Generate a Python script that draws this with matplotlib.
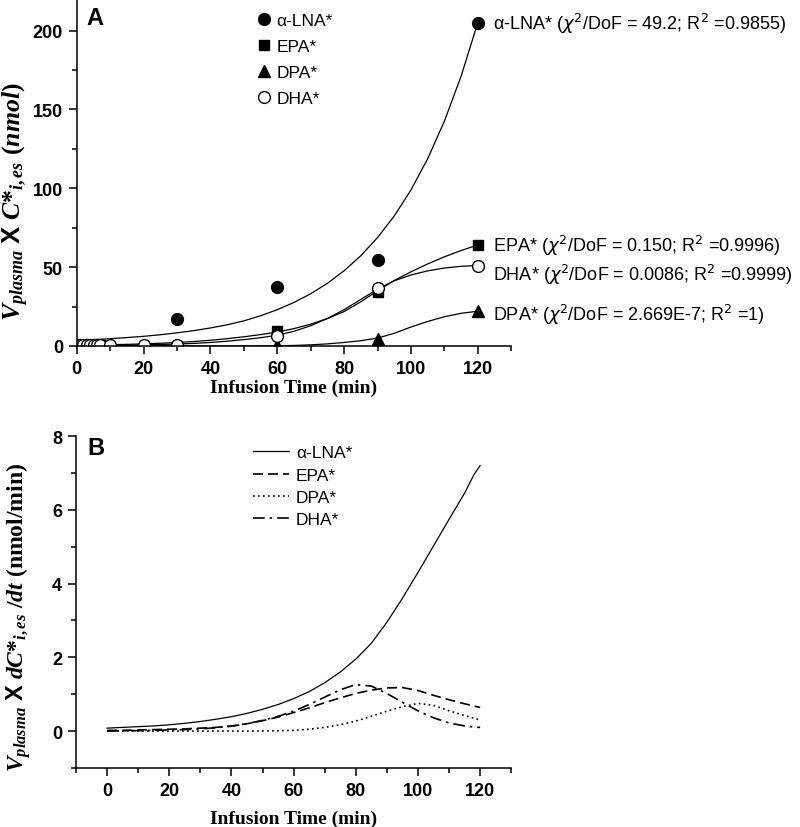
import matplotlib
matplotlib.use('Agg')
import matplotlib.pyplot as plt
from matplotlib.ticker import MultipleLocator
import numpy as np

plt.rcParams['font.family'] = ['Liberation Sans', 'DejaVu Sans']
plt.rcParams['mathtext.fontset'] = 'custom'
plt.rcParams['mathtext.it'] = 'Liberation Serif:italic:bold'
plt.rcParams['mathtext.rm'] = 'Liberation Serif:bold'
plt.rcParams['mathtext.bf'] = 'Liberation Serif:bold'
plt.rcParams['mathtext.sf'] = 'Liberation Sans:bold'

### measured points, panel A (nmol)
names = ['α-LNA*', 'EPA*', 'DPA*', 'DHA*']
t_early = [1, 2, 3, 4, 5, 6, 7]
t_lna = t_early + [30, 60, 90, 120]
v_lna = [0.6, 0.6, 0.6, 0.6, 0.6, 0.6, 0.6, 17, 37.5, 54.5, 205]
t_epa = t_early + [60, 90, 120]
v_epa = [0.5, 0.5, 0.5, 0.5, 0.5, 0.5, 0.5, 9.5, 34.5, 64]
t_dpa = t_early + [10, 60, 90, 120]
v_dpa = [0.8, 0.8, 0.8, 0.8, 0.8, 0.8, 0.8, 0.8, 0.5, 4.5, 22]
t_dha = t_early + [10, 20, 30, 60, 90, 120]
v_dha = [0.4, 0.4, 0.4, 0.4, 0.4, 0.4, 0.4, 0.5, 0.5, 0.5, 6.5, 37, 51]

### fitted curves, every 5 min
t_fit = list(range(0, 125, 5))
fit_lna = [3.5, 4.0, 4.6, 5.3, 6.1, 7.1, 8.3, 9.7, 11.4, 13.4, 15.9, 19.1, 23.0,
           27.6, 33.1, 39.7, 47.7, 57.2, 68.7, 82.4, 98.9, 118.7, 142.5, 171.0, 205.0]
fit_epa = [0.5, 0.6, 0.8, 1.0, 1.3, 1.7, 2.2, 2.8, 3.6, 4.6, 5.8, 7.2, 8.8,
           11.0, 13.8, 17.4, 21.8, 28.0, 35.0, 41.5, 47.0, 52.0, 56.5, 60.5, 64.0]
fit_dpa = [0, 0, 0, 0, 0, 0, 0, 0, 0, 0, 0, 0.05, 0.1,
           0.3, 0.7, 1.3, 2.2, 3.3, 5.0, 8.0, 12.0, 15.5, 18.5, 20.7, 22.0]
fit_dha = [0.3, 0.35, 0.4, 0.5, 0.7, 0.9, 1.2, 1.6, 2.2, 3.0, 4.0, 5.2, 6.8,
           9.3, 12.8, 17.4, 23.0, 29.5, 36.0, 41.3, 45.0, 47.6, 49.4, 50.5, 51.0]

### rates, panel B (nmol/min)
t_rate = list(range(0, 120, 5)) + [118, 120]
rate_lna = [0.08, 0.10, 0.12, 0.14, 0.17, 0.21, 0.26, 0.32, 0.39, 0.48, 0.59, 0.72, 0.88,
            1.07, 1.31, 1.60, 1.95, 2.38, 2.95, 3.60, 4.30, 5.02, 5.74, 6.45, 6.95, 7.2]
rate_epa = [0.02, 0.02, 0.03, 0.04, 0.05, 0.06, 0.08, 0.10, 0.14, 0.20, 0.28, 0.38, 0.50,
            0.63, 0.77, 0.90, 1.02, 1.11, 1.17, 1.18, 1.10, 0.97, 0.85, 0.74, 0.68, 0.64]
rate_dpa = [0, 0, 0, 0, 0, 0, 0, 0, 0, 0, 0, 0.01, 0.02,
            0.05, 0.10, 0.17, 0.27, 0.40, 0.54, 0.66, 0.75, 0.70, 0.55, 0.42, 0.35, 0.30]
rate_dha = [0.0, 0.01, 0.01, 0.02, 0.03, 0.04, 0.06, 0.09, 0.13, 0.20, 0.29, 0.40, 0.54,
            0.72, 0.92, 1.12, 1.26, 1.22, 1.02, 0.78, 0.55, 0.36, 0.22, 0.14, 0.11, 0.10]

stats = [r'($\chi^2$/DoF = 49.2; R$^2$ =0.9855)', r'($\chi^2$/DoF = 0.150; R$^2$ =0.9996)',
         r'($\chi^2$/DoF = 2.669E-7; R$^2$ =1)', r'($\chi^2$/DoF = 0.0086; R$^2$ =0.9999)']

fig = plt.figure(figsize=(8, 8.28), dpi=100)
axA = fig.add_axes([0.096, 0.581, 0.543, 0.419])
axB = fig.add_axes([0.095, 0.0713, 0.544, 0.4009])

lab_font = dict(fontsize=14, fontweight='bold', family='Liberation Serif')

def style_axis(ax):
	for s in ['top', 'right']:
		ax.spines[s].set_visible(False)
	for s in ['left', 'bottom']:
		ax.spines[s].set_linewidth(1.1)
	ax.tick_params(which='major', direction='out', length=6, width=1.1, pad=4)
	ax.tick_params(which='minor', direction='out', length=3.5, width=1.1)
	for lab in ax.get_xticklabels() + ax.get_yticklabels():
		lab.set_fontweight('bold')
		lab.set_fontsize(13)

### panel A
pts = [(t_lna, v_lna, 'o', 'k', 8.5), (t_epa, v_epa, 's', 'k', 7),
       (t_dpa, v_dpa, '^', 'k', 8.5), (t_dha, v_dha, 'o', 'w', 8.5)]
fits = [fit_lna, fit_epa, fit_dpa, fit_dha]
for (tt, vv, m, fc, ms), name, fit in zip(pts, names, fits):
	axA.plot(t_fit, fit, color='k', lw=0.9)
	axA.plot(tt, vv, m, mfc=fc, mec='k', ms=ms, mew=1, label=name)

offs = [(11, 0), (11, 0), (11, -2), (11, -6)]
for i in [0, 1, 3, 2]:
	tt, vv = pts[i][0], pts[i][1]
	axA.annotate(names[i] + ' ' + stats[i], xy=(tt[-1], vv[-1]), xytext=offs[i],
	             textcoords='offset points', va='center', ha='left', fontsize=13,
	             math_fontfamily='dejavusans', annotation_clip=False)

axA.set_xlim(0, 130)
axA.set_ylim(0, 220)
axA.xaxis.set_major_locator(MultipleLocator(20))
axA.xaxis.set_minor_locator(MultipleLocator(10))
axA.yaxis.set_major_locator(MultipleLocator(50))
axA.yaxis.set_minor_locator(MultipleLocator(25))
style_axis(axA)
axA.set_xlabel('Infusion Time (min)', labelpad=1, **lab_font)
axA.set_ylabel(r'$V_{plasma}\ \mathsf{X}\ C{*}_{i,es}\ (nmol)$', fontsize=18.5)
axA.yaxis.set_label_coords(-0.106, 0.42)
axA.text(0.023, 0.98, 'A', transform=axA.transAxes, ha='left', va='top',
         fontsize=17, fontweight='bold')
axA.legend(loc='upper left', bbox_to_anchor=(0.38, 1.005), frameon=False, fontsize=12.5,
           handlelength=0.8, handletextpad=0.3, labelspacing=0.62)

### panel B
styles = ['-', (0, (6, 3)), (0, (1, 2)), (0, (7, 3, 1.5, 3))]
rates = [rate_lna, rate_epa, rate_dpa, rate_dha]
for name, rr, ls in zip(names, rates, styles):
	axB.plot(t_rate, rr, color='k', lw=1.2 if ls != '-' else 0.9, linestyle=ls, label=name)

axB.set_xlim(-10, 130)
axB.set_ylim(-1, 8)
axB.xaxis.set_major_locator(MultipleLocator(20))
axB.xaxis.set_minor_locator(MultipleLocator(10))
axB.yaxis.set_major_locator(MultipleLocator(2))
axB.yaxis.set_minor_locator(MultipleLocator(1))
style_axis(axB)
axB.set_xlabel('Infusion Time (min)', labelpad=8, **lab_font)
axB.set_ylabel(r'$V_{plasma}\ \mathsf{X}\ dC{*}_{i,es}\ /dt$ (nmol/min)', fontsize=17,
               fontweight='bold', family='Liberation Serif')
axB.yaxis.set_label_coords(-0.099, 0.455)
axB.text(0.025, 1.0, 'B', transform=axB.transAxes, ha='left', va='top',
         fontsize=17, fontweight='bold')
axB.legend(loc='upper left', bbox_to_anchor=(0.37, 1.02), frameon=False, fontsize=12.5,
           handlelength=2.1, handletextpad=0.4, labelspacing=0.42)

fig.savefig('out.png', dpi=100)
